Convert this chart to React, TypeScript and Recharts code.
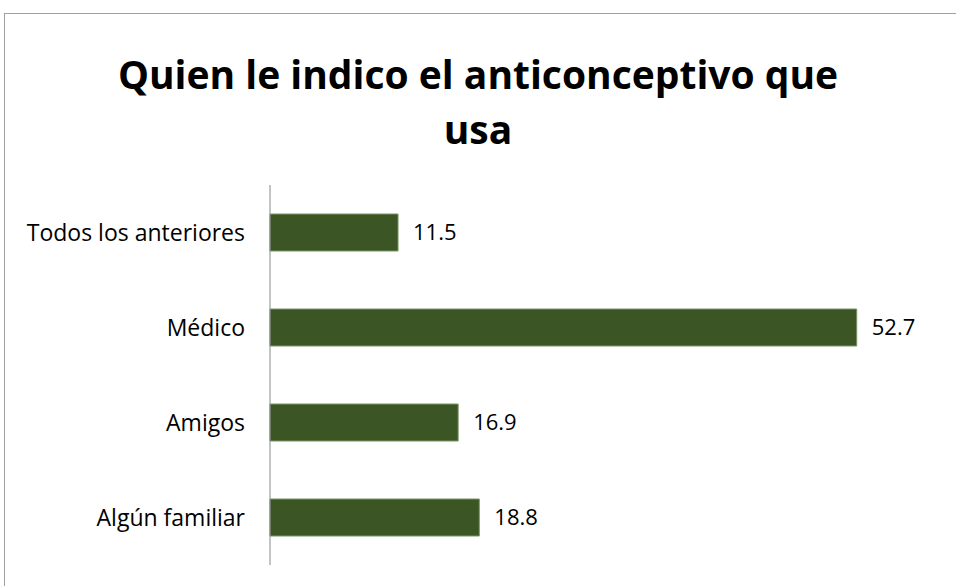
import { Bar, BarChart, LabelList, XAxis, YAxis } from "recharts";

const categories = ["Todos los anteriores", "Médico", "Amigos", "Algún familiar"];
const values = [11.5, 52.7, 16.9, 18.8];

const data = categories.map((name, i) => ({ name, value: values[i] }));

const font = "'Open Sans', 'Liberation Sans', Arial, sans-serif";

export default function App() {
  return (
    <div
      style={{
        position: "absolute",
        left: 0,
        top: 0,
        width: 956,
        height: 586,
        overflow: "hidden",
        background: "#fff",
        fontFamily: font,
      }}
    >
      <div
        style={{
          position: "absolute",
          left: 4,
          top: 13,
          width: 1000,
          height: 700,
          border: "1px solid #a0a0a0",
        }}
      />
      <div
        style={{
          position: "absolute",
          left: 0,
          top: 46,
          width: 956,
          textAlign: "center",
          fontSize: 39,
          fontWeight: "bold",
          lineHeight: "55px",
          color: "#000",
        }}
      >
        Quien le indico el anticonceptivo que
        <br />
        usa
      </div>
      <BarChart
        width={956}
        height={586}
        data={data}
        layout="vertical"
        margin={{ top: 185, right: 18, bottom: 21, left: 0 }}
        style={{ position: "absolute", left: 0, top: 0 }}
      >
        <XAxis type="number" domain={[0, 60]} hide />
        <YAxis
          type="category"
          dataKey="name"
          width={270}
          tickLine={false}
          tickSize={0}
          tickMargin={25}
          axisLine={{ stroke: "#888888" }}
          tick={{ fill: "#000", fontSize: 23, fontFamily: font }}
        />
        <Bar
          dataKey="value"
          fill="#3B5624"
          stroke="#7A9468"
          strokeWidth={1}
          barSize={37}
          isAnimationActive={false}
        >
          <LabelList
            dataKey="value"
            position="right"
            offset={15}
            fill="#000"
            fontSize={22}
            fontFamily={font}
          />
        </Bar>
      </BarChart>
    </div>
  );
}
